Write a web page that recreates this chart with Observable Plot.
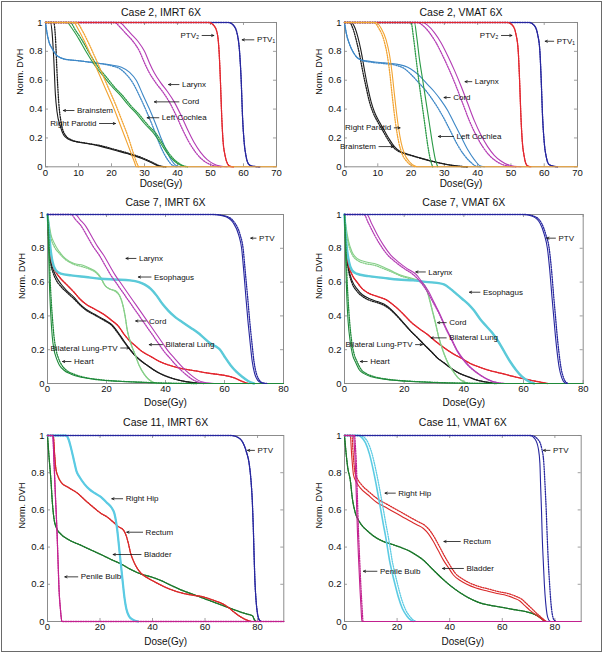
<!DOCTYPE html>
<html><head><meta charset="utf-8">
<script src="https://cdn.jsdelivr.net/npm/d3@7"></script>
<script src="https://cdn.jsdelivr.net/npm/@observablehq/plot@0.6"></script>
<style>
body{margin:0;background:#fff;}
#fig{position:relative;width:605px;height:654px;overflow:hidden;background:#fff;font-family:"Liberation Sans",Arial,sans-serif;}
#border{position:absolute;left:1px;top:1px;width:601px;height:651px;border:1.2px solid #6a6a6a;box-sizing:border-box;}
.panel{position:absolute;}
</style></head><body><div id="fig"><div id="border"></div></div>
<script>
// ---------- Case 2, IMRT 6X ----------
const c2i_brainstem = [[0,1],[1.5,1],[2,0.93],[2.5,0.75],[3,0.5],[3.5,0.38],[4.5,0.28],[5.5,0.22],[7,0.19],[9,0.175],[13,0.16],[17,0.14],[21,0.115],[25,0.09],[29,0.06],[32,0.03],[34,0.008],[36,0]];
const c2i_brainstem_b = [[0,1],[2.5,1],[3,0.9],[3.5,0.65],[4,0.45],[4.8,0.3],[6,0.22],[8,0.185],[12,0.165],[17,0.145],[21,0.12],[25,0.095],[29,0.065],[32,0.035],[34.5,0.008],[36.5,0]];
const c2i_cord = [[0,1],[0.3,0.95],[1,0.87],[2,0.82],[3.5,0.77],[6,0.745],[10,0.735],[15,0.72],[20,0.705],[23,0.69],[25.5,0.655],[27.5,0.6],[29.5,0.5],[31.5,0.4],[33.5,0.29],[35,0.2],[36.5,0.12],[38,0.05],[39.5,0.01],[41,0]];
const c2i_cord_b = [[0,1],[0.3,0.95],[1,0.87],[2,0.82],[3.5,0.77],[6,0.745],[10,0.735],[15,0.72],[20,0.7],[22.5,0.68],[24.5,0.64],[26.5,0.58],[28.5,0.49],[30.5,0.39],[32.5,0.28],[34,0.19],[35.5,0.11],[37,0.05],[38.5,0.01],[40,0]];
const c2i_cochlea = [[0,1],[6.5,1],[8,0.96],[10,0.89],[12.5,0.79],[15,0.7],[17.5,0.63],[20,0.56],[22.5,0.5],[25,0.43],[27.5,0.37],[30,0.3],[32.5,0.24],[35,0.16],[37,0.09],[39,0.04],[41,0.01],[42.5,0]];
const c2i_cochlea_b = [[0,1],[7.5,1],[9,0.95],[11,0.88],[13.5,0.78],[16,0.69],[18.5,0.62],[21,0.55],[23.5,0.49],[26,0.42],[28.5,0.36],[31,0.29],[33.5,0.23],[35.5,0.16],[37.5,0.09],[39.5,0.04],[41.5,0.01],[43,0]];
const c2i_parotid = [[0,1],[8.5,1],[10,0.95],[12,0.86],[14,0.76],[16,0.655],[18,0.55],[20,0.445],[22,0.33],[24,0.21],[26,0.09],[27,0.03],[27.5,0],[70,0]];
const c2i_parotid_b = [[0,1],[9.5,1],[11,0.95],[13,0.86],[15,0.76],[17,0.655],[19,0.55],[21,0.445],[23,0.33],[25,0.21],[26.7,0.09],[27.6,0.03],[28.2,0]];
const c2i_larynx = [[0,1],[22.5,1],[24,0.97],[26,0.92],[28,0.87],[30,0.8],[31.5,0.72],[33,0.65],[35,0.58],[37,0.52],[39,0.45],[41,0.36],[43,0.26],[45,0.17],[47,0.1],[49,0.05],[51,0.02],[53,0.005],[55,0]];
const c2i_larynx_b = [[0,1],[21,1],[22.5,0.97],[24.5,0.92],[26.5,0.87],[28.5,0.8],[30,0.72],[31.5,0.65],[33.5,0.58],[35.5,0.52],[37.5,0.45],[39.5,0.36],[41.5,0.26],[43.5,0.17],[45.5,0.1],[47.5,0.05],[49.5,0.02],[51.5,0.005],[53.5,0]];
const c2i_ptv2 = [[0,1],[49.5,1],[51,0.98],[52,0.93],[52.6,0.8],[53,0.6],[53.4,0.35],[53.8,0.18],[54.4,0.08],[55.2,0.02],[56,0.003],[57,0]];
const c2i_ptv1 = [[0,1],[55.5,1],[57,0.98],[58,0.93],[58.8,0.8],[59.3,0.6],[59.7,0.35],[60.2,0.17],[60.8,0.07],[61.5,0.02],[62.5,0.005],[65,0]];
const c2i_labels = [
  {name:"PTV\u2082", dose:51, vol:0.91, tx:47},
  {name:"PTV\u2081", dose:59.6, vol:0.88, tx:63.6},
  {name:"Larynx", dose:37.3, vol:0.57, tx:40.9},
  {name:"Cord", dose:33, vol:0.45, tx:40.9},
  {name:"Left Cochlea", dose:30.8, vol:0.34, tx:34.8},
  {name:"Brainstem", dose:5.4, vol:0.39, tx:9.1},
  {name:"Right Parotid", dose:21.2, vol:0.30, tx:15.9}
];

// ---------- Case 2, VMAT 6X ----------
const c2v_brainstem = [[0,1],[2,1],[3,0.97],[4,0.9],[5,0.8],[6,0.67],[7,0.55],[8,0.45],[9,0.38],[10.5,0.31],[12,0.25],[13.5,0.19],[15,0.14],[16.5,0.11],[18,0.095],[20,0.08],[23,0.06],[26,0.04],[29,0.025],[32,0.012],[35,0.003],[37,0]];
const c2v_brainstem_b = [[0,1],[1.5,1],[2.5,0.96],[3.5,0.88],[4.5,0.78],[5.5,0.66],[6.5,0.55],[7.5,0.45],[8.5,0.38],[10,0.31],[11.5,0.25],[13,0.19],[14.5,0.14],[16,0.11],[17.5,0.095],[20,0.078],[23,0.058],[26,0.04],[29,0.024],[32,0.01],[35,0.002],[37,0]];
const c2v_cord = [[0,1],[0.5,0.93],[1.5,0.85],[3,0.78],[5,0.74],[8,0.73],[12,0.72],[16,0.71],[19,0.69],[21,0.66],[23,0.62],[25,0.57],[27,0.52],[29,0.46],[31,0.39],[33,0.3],[35,0.21],[37,0.12],[39,0.05],[40.5,0.01],[42,0]];
const c2v_cord_b = [[0,1],[0.5,0.93],[1.5,0.85],[3,0.78],[5,0.74],[8,0.725],[12,0.715],[16,0.7],[18,0.68],[20,0.64],[22,0.59],[24,0.54],[26,0.48],[28,0.41],[30,0.33],[32,0.24],[34,0.15],[36,0.08],[38,0.03],[39.5,0.005],[41,0]];
const c2v_parotid = [[0,1],[9.5,1],[11,0.96],[12.5,0.88],[13.5,0.78],[14.3,0.65],[15,0.5],[15.6,0.38],[16.3,0.26],[17,0.17],[18,0.09],[19.5,0.035],[21,0.008],[22,0],[70,0]];
const c2v_parotid_b = [[0,1],[8.8,1],[10.3,0.96],[11.8,0.88],[12.8,0.78],[13.6,0.65],[14.3,0.5],[14.9,0.38],[15.6,0.26],[16.3,0.17],[17.3,0.09],[18.8,0.035],[20.3,0.008],[21.3,0]];
const c2v_cochlea = [[0,1],[21,1],[21.7,0.9],[22.5,0.75],[23.5,0.6],[24.5,0.45],[25.5,0.3],[26.5,0.15],[27.3,0.05],[28,0]];
const c2v_cochlea_b = [[0,1],[20,1],[20.7,0.9],[21.5,0.75],[22.3,0.6],[23.2,0.45],[24.1,0.3],[25,0.15],[25.8,0.05],[26.5,0]];
const c2v_larynx = [[0,1],[23.5,1],[25,0.98],[27,0.93],[29,0.86],[31,0.77],[33,0.67],[35,0.56],[37,0.44],[39,0.32],[41,0.22],[43,0.14],[45,0.08],[47,0.04],[49,0.015],[51,0.004],[53,0]];
const c2v_larynx_b = [[0,1],[22,1],[23.5,0.98],[25.5,0.93],[27.5,0.86],[29.5,0.77],[31.5,0.67],[33.5,0.56],[35.5,0.44],[37.5,0.32],[39.5,0.22],[41.5,0.14],[43.5,0.08],[45.5,0.04],[47.5,0.015],[49.5,0.004],[51.5,0]];
const c2v_ptv2 = [[0,1],[49,1],[50.5,0.98],[51.5,0.92],[52.2,0.8],[52.6,0.6],[53,0.35],[53.4,0.18],[54,0.07],[54.8,0.01],[56,0]];
const c2v_ptv1 = [[0,1],[55.5,1],[57,0.98],[58,0.92],[58.7,0.8],[59.1,0.6],[59.5,0.35],[60,0.17],[60.7,0.06],[61.5,0.015],[63,0.003],[64,0]];
const c2v_labels = [
  {name:"PTV\u2082", dose:50.3, vol:0.91, tx:46.7},
  {name:"PTV\u2081", dose:60.3, vol:0.87, tx:63.3},
  {name:"Larynx", dose:36.2, vol:0.59, tx:38.7},
  {name:"Cord", dose:29.9, vol:0.48, tx:32.2},
  {name:"Left Cochlea", dose:28.2, vol:0.21, tx:33.2},
  {name:"Right Parotid", dose:16.7, vol:0.27, tx:14.5},
  {name:"Brainstem", dose:14.7, vol:0.14, tx:9.9}
];

// ---------- Case 7, IMRT 6X ----------
const c7i_ptv = [[0,1],[56,1],[60,0.99],[63,0.95],[64.8,0.88],[65.8,0.8],[66.6,0.65],[67.3,0.5],[68,0.36],[68.7,0.24],[69.4,0.13],[70.2,0.06],[71.2,0.02],[72.5,0.004],[74,0]];
const c7i_ptv_b = [[0,1],[56.5,1],[60.5,0.99],[63.5,0.95],[65.3,0.88],[66.3,0.8],[67.1,0.65],[67.9,0.5],[68.6,0.36],[69.3,0.24],[70,0.13],[70.8,0.06],[71.8,0.02],[73,0.004],[74.5,0]];
const c7i_larynx = [[0,1],[9.5,1],[11,0.97],[13,0.93],[15,0.87],[17,0.81],[19,0.76],[21,0.7],[23,0.64],[25,0.59],[27,0.54],[29,0.49],[31,0.44],[33,0.39],[35,0.34],[37,0.29],[39,0.24],[41,0.19],[43,0.15],[45,0.11],[47,0.075],[49,0.045],[51,0.02],[53,0.007],[55,0.002],[56.5,0]];
const c7i_larynx_b = [[0,1],[8,1],[9.5,0.97],[11.5,0.93],[13.5,0.87],[15.5,0.81],[17.5,0.76],[19.5,0.7],[21.5,0.64],[23.5,0.59],[25.5,0.54],[27.5,0.49],[29.5,0.44],[31.5,0.39],[33.5,0.34],[35.5,0.29],[37.5,0.24],[39.5,0.19],[41.5,0.15],[43.5,0.11],[45.5,0.075],[47.5,0.045],[49.5,0.02],[51.5,0.007],[53.5,0.002],[55,0]];
const c7i_esophagus = [[0,1],[0.5,0.9],[1,0.8],[1.7,0.72],[2.8,0.67],[4.5,0.65],[8,0.64],[13,0.63],[18,0.62],[23,0.615],[28,0.61],[31,0.6],[33,0.585],[35,0.56],[37,0.52],[39,0.47],[41,0.43],[43.5,0.39],[46,0.36],[48.5,0.33],[51,0.3],[53,0.27],[55,0.24],[57,0.22],[58.5,0.2],[60,0.16],[62,0.11],[64,0.07],[66,0.04],[68,0.015],[70,0]];
const c7i_cord = [[0,1],[0.5,0.95],[1.2,0.88],[2.3,0.83],[4,0.78],[6,0.74],[9,0.71],[12,0.7],[14.5,0.68],[16.5,0.66],[18,0.63],[19.5,0.58],[21,0.56],[23,0.55],[24.5,0.52],[25.5,0.47],[26.3,0.4],[27,0.32],[28,0.25],[29.5,0.18],[31,0.11],[33,0.05],[35,0.015],[37,0]];
const c7i_cord_b = [[0,1],[0.5,0.93],[1.2,0.86],[2.3,0.81],[4,0.77],[6,0.735],[9,0.705],[12,0.69],[14.5,0.675],[16.5,0.655],[18,0.625],[19.5,0.58],[21,0.56],[23,0.545],[24.5,0.515],[25.5,0.465],[26.3,0.4],[27,0.32],[28,0.25],[29.5,0.18],[31,0.11],[33,0.05],[35,0.015],[37,0]];
const c7i_lung = [[0,1],[0.3,0.9],[0.7,0.8],[1.2,0.74],[2,0.69],[3,0.655],[4.5,0.62],[6.5,0.585],[9,0.54],[11,0.5],[13,0.47],[16,0.44],[19,0.41],[22,0.37],[24,0.34],[26,0.29],[28,0.25],[30,0.22],[32,0.19],[35,0.16],[38,0.13],[41,0.11],[45,0.09],[50,0.075],[55,0.06],[60,0.048],[63,0.035],[65,0.02],[67,0.006],[68,0]];
const c7i_lungptv = [[0,1],[0.3,0.9],[0.7,0.79],[1.2,0.72],[2,0.67],[3,0.63],[4.5,0.59],[6.5,0.55],[9,0.51],[11,0.47],[13,0.44],[16,0.41],[19,0.38],[22,0.345],[24,0.3],[26,0.25],[28,0.2],[30,0.16],[32,0.13],[34,0.105],[37,0.07],[40,0.045],[44,0.022],[48,0.008],[51,0.002],[53,0]];
const c7i_lungptv_b = [[0,1],[0.3,0.88],[0.7,0.77],[1.2,0.7],[2,0.65],[3,0.61],[4.5,0.575],[6.5,0.54],[9,0.5],[11,0.465],[13,0.435],[16,0.405],[19,0.375],[22,0.34],[24,0.295],[26,0.245],[28,0.2],[30,0.16],[32,0.13],[34,0.105],[37,0.07],[40,0.045],[44,0.022],[48,0.008],[51,0.002],[53,0]];
const c7i_heart = [[0,1],[0.3,0.85],[0.6,0.62],[0.9,0.48],[1.2,0.38],[1.6,0.28],[2.2,0.2],[3,0.15],[4,0.11],[5.5,0.08],[8,0.055],[12,0.035],[17,0.022],[24,0.013],[30,0.008],[36,0.004],[42,0.001],[50,0],[80,0]];
const c7i_heart_b = [[0,1],[0.5,0.85],[0.9,0.62],[1.3,0.48],[1.7,0.38],[2.2,0.28],[2.9,0.2],[3.7,0.15],[4.8,0.11],[6.3,0.08],[9,0.055],[13,0.035],[18,0.022],[25,0.013],[31,0.008],[37,0.004],[43,0.001],[51,0]];
const c7i_labels = [
  {name:"PTV", dose:68.9, vol:0.86, tx:71.2},
  {name:"Larynx", dose:26.6, vol:0.74, tx:30.5},
  {name:"Esophagus", dose:30.8, vol:0.63, tx:35.6},
  {name:"Cord", dose:29.9, vol:0.37, tx:33.9},
  {name:"Bilateral Lung", dose:34.5, vol:0.23, tx:39.5},
  {name:"Bilateral Lung-PTV", dose:27.7, vol:0.21, tx:24.3},
  {name:"Heart", dose:5.1, vol:0.13, tx:8.5}
];

// ---------- Case 7, VMAT 6X ----------
const c7v_ptv = [[0,1],[60,1],[63,0.99],[65.5,0.95],[67,0.88],[68,0.8],[68.8,0.67],[69.5,0.52],[70.1,0.4],[70.7,0.28],[71.3,0.18],[72,0.09],[72.8,0.035],[73.6,0.008],[74.5,0]];
const c7v_ptv_b = [[0,1],[60.5,1],[63.5,0.99],[66,0.95],[67.5,0.88],[68.6,0.8],[69.4,0.67],[70.1,0.52],[70.7,0.4],[71.3,0.28],[71.9,0.18],[72.6,0.09],[73.4,0.035],[74.2,0.008],[75,0]];
const c7v_larynx = [[0,1],[7.5,1],[9,0.95],[11,0.88],[13,0.82],[15.5,0.76],[18,0.72],[21,0.68],[24,0.645],[26,0.6],[28,0.55],[30,0.48],[32,0.41],[34,0.33],[36,0.26],[38,0.19],[40,0.14],[42,0.1],[44,0.07],[46,0.045],[48,0.025],[50,0.01],[52,0.003],[54,0]];
const c7v_larynx_b = [[0,1],[6.5,1],[8,0.95],[10,0.88],[12,0.82],[14.5,0.76],[17,0.72],[20,0.68],[23,0.645],[25.5,0.6],[27.5,0.55],[29.7,0.48],[31.8,0.41],[33.8,0.33],[35.8,0.26],[37.8,0.19],[39.8,0.14],[41.8,0.1],[43.8,0.07],[45.8,0.045],[47.8,0.025],[49.8,0.01],[51.8,0.003],[53.5,0]];
const c7v_esophagus = [[0,1],[0.3,0.9],[0.8,0.8],[1.5,0.72],[2.5,0.67],[4,0.65],[8,0.635],[13,0.625],[18,0.615],[23,0.61],[28,0.6],[31,0.595],[33.5,0.585],[35.5,0.56],[37.5,0.53],[39.5,0.5],[41.5,0.47],[43.5,0.43],[45.5,0.38],[47.5,0.34],[49.5,0.3],[51.5,0.25],[53.5,0.19],[55.5,0.13],[57.5,0.08],[59.5,0.04],[61.5,0.015],[63.5,0]];
const c7v_cord = [[0,1],[0.5,0.93],[1.4,0.84],[2.5,0.78],[4.2,0.74],[7,0.72],[10,0.71],[13,0.69],[16.5,0.66],[19,0.64],[21,0.63],[24,0.615],[26,0.6],[27.5,0.56],[28.5,0.5],[29.5,0.43],[30.5,0.36],[31.5,0.28],[32.5,0.22],[33.5,0.17],[35,0.11],[36.5,0.07],[38,0.035],[40,0.01],[41.5,0]];
const c7v_cord_b = [[0,1],[0.5,0.91],[1.4,0.82],[2.5,0.765],[4.2,0.73],[7,0.71],[10,0.7],[13,0.68],[16.5,0.655],[19,0.635],[21,0.625],[24,0.61],[26,0.595],[27.5,0.555],[28.5,0.495],[29.5,0.425],[30.5,0.355],[31.5,0.28],[32.5,0.22],[33.5,0.17],[35,0.11],[36.5,0.07],[38,0.035],[40,0.01],[41.5,0]];
const c7v_lung = [[0,1],[0.3,0.88],[0.8,0.77],[1.4,0.7],[2.5,0.645],[4.2,0.6],[6,0.56],[8,0.535],[11,0.515],[14,0.495],[16,0.47],[18,0.44],[20,0.405],[22.2,0.365],[25,0.325],[27.8,0.29],[30.5,0.25],[33.5,0.21],[36.5,0.175],[39.1,0.15],[42,0.12],[44.7,0.1],[48,0.08],[52.6,0.06],[57,0.04],[61.6,0.022],[65,0.01],[68,0]];
const c7v_lungptv = [[0,1],[0.3,0.87],[0.8,0.75],[1.4,0.68],[2.5,0.61],[4.2,0.56],[6,0.525],[8,0.505],[11,0.485],[13.2,0.47],[15.5,0.44],[17.7,0.4],[20,0.355],[22.2,0.31],[24.5,0.27],[26.7,0.23],[29,0.19],[31.2,0.15],[33.5,0.12],[35.7,0.09],[38.5,0.06],[41.4,0.04],[44,0.022],[47,0.01],[50.4,0]];
const c7v_lungptv_b = [[0,1],[0.3,0.86],[0.8,0.74],[1.4,0.665],[2.5,0.595],[4.2,0.545],[6,0.515],[8,0.495],[11,0.478],[13.2,0.463],[15.5,0.435],[17.7,0.397],[20,0.352],[22.2,0.31],[24.5,0.27],[26.7,0.23],[29,0.19],[31.2,0.15],[33.5,0.12],[35.7,0.09],[38.5,0.06],[41.4,0.04],[44,0.022],[47,0.01],[50.4,0]];
const c7v_heart = [[0,1],[0.3,0.8],[0.6,0.6],[0.8,0.5],[1.2,0.37],[1.9,0.25],[2.7,0.17],[3.6,0.13],[5,0.08],[6.4,0.06],[9,0.04],[13.2,0.026],[18,0.017],[24.5,0.01],[30,0.006],[35.7,0.003],[42,0.001],[50,0],[80,0]];
const c7v_heart_b = [[0,1],[0.5,0.8],[0.9,0.6],[1.2,0.5],[1.7,0.37],[2.4,0.25],[3.3,0.17],[4.2,0.13],[5.7,0.08],[7.2,0.06],[10,0.04],[14,0.026],[19,0.017],[25.5,0.01],[31,0.006],[36.5,0.003],[43,0.001],[51,0]];
const c7v_labels = [
  {name:"PTV", dose:67.8, vol:0.86, tx:71.2},
  {name:"Larynx", dose:23.9, vol:0.66, tx:27.6},
  {name:"Esophagus", dose:41.9, vol:0.54, tx:45.9},
  {name:"Cord", dose:31.2, vol:0.36, tx:34.6},
  {name:"Bilateral Lung", dose:29, vol:0.27, tx:34.6},
  {name:"Bilateral Lung-PTV", dose:26.1, vol:0.23, tx:23.3},
  {name:"Heart", dose:5.3, vol:0.13, tx:8.1}
];

// ---------- Case 11, IMRT 6X ----------
const c11i_ptv = [[0,1],[70,1],[72.5,0.99],[74.5,0.96],[75.8,0.91],[76.8,0.85],[77.5,0.76],[78,0.65],[78.4,0.5],[78.7,0.35],[79,0.22],[79.4,0.12],[79.9,0.05],[80.6,0.01],[81.5,0]];
const c11i_hip = [[0,1],[7,1],[8,0.98],[9,0.93],[10,0.87],[11,0.81],[12.5,0.77],[14,0.74],[16,0.71],[18,0.69],[20.3,0.67],[22.5,0.64],[24.5,0.61],[25.5,0.58],[26.3,0.52],[26.9,0.45],[27.4,0.38],[28,0.3],[28.6,0.22],[29.3,0.13],[30,0.07],[31,0.03],[32.5,0.01],[34.5,0]];
const c11i_rectum = [[0,1],[2.2,1],[2.7,0.9],[3.2,0.82],[4,0.78],[5.1,0.75],[8,0.72],[11.4,0.69],[14.5,0.65],[17.8,0.61],[20.5,0.58],[22.9,0.56],[25,0.535],[27,0.51],[29,0.49],[30,0.46],[30.8,0.42],[31.6,0.37],[32.6,0.33],[34,0.29],[35.6,0.26],[38,0.235],[40.6,0.215],[44,0.19],[48.3,0.165],[52,0.15],[55.9,0.14],[58.5,0.135],[61,0.125],[64,0.11],[66,0.1],[68.5,0.08],[71.1,0.05],[73.5,0.025],[76.2,0.006],[77.5,0]];
const c11i_bladder = [[0,1],[0.5,0.9],[1.3,0.76],[1.9,0.63],[2.5,0.55],[3.5,0.5],[5.1,0.47],[8,0.44],[12.7,0.41],[16.5,0.385],[20.3,0.36],[24,0.335],[27.9,0.31],[31.7,0.28],[35.6,0.255],[39.4,0.24],[43.2,0.22],[47,0.195],[50.8,0.17],[54.6,0.15],[58.4,0.13],[62.2,0.11],[66,0.09],[69.8,0.07],[73.7,0.05],[76,0.04],[78.1,0.03],[78.8,0.01],[79.4,0]];
const c11i_bulb = [[0,1],[2,1],[2.5,0.85],[3,0.68],[3.6,0.49],[4,0.33],[4.4,0.17],[4.9,0.07],[5.5,0],[90,0]];
const c11i_labels = [
  {name:"PTV", dose:76.2, vol:0.92, tx:79.4},
  {name:"Right Hip", dose:24.5, vol:0.66, tx:29.2},
  {name:"Rectum", dose:30.2, vol:0.48, tx:36.8},
  {name:"Bladder", dose:25, vol:0.36, tx:36.2},
  {name:"Penile Bulb", dose:6.6, vol:0.24, tx:12.1}
];

// ---------- Case 11, VMAT 6X ----------
const c11v_ptv = [[0,1],[70.5,1],[72.5,0.98],[73.7,0.93],[74.3,0.85],[74.6,0.72],[74.9,0.6],[75.2,0.45],[75.6,0.32],[76,0.2],[76.5,0.1],[77,0.04],[77.6,0.01],[78.3,0]];
const c11v_ptv_b = [[0,1],[71,1],[73.5,0.98],[75,0.93],[75.8,0.85],[76.3,0.72],[76.7,0.6],[77.1,0.45],[77.5,0.32],[78,0.2],[78.5,0.1],[79,0.04],[79.6,0.01],[80.5,0]];
const c11v_hip = [[0,1],[5.3,1],[6.5,0.99],[8,0.96],[9.5,0.9],[11,0.81],[12,0.74],[12.9,0.67],[13.8,0.6],[14.8,0.52],[15.6,0.46],[16.3,0.4],[17.1,0.33],[18,0.27],[19.2,0.2],[20.5,0.13],[22,0.07],[23.7,0.03],[25,0.01],[26.2,0]];
const c11v_hip_b = [[0,1],[6,1],[7.5,0.99],[9,0.96],[10.5,0.9],[12,0.81],[13,0.74],[13.9,0.67],[14.8,0.6],[15.8,0.52],[16.6,0.46],[17.3,0.4],[18.1,0.33],[19,0.27],[20.2,0.2],[21.5,0.13],[23,0.07],[24.7,0.03],[26,0.01],[27.2,0]];
const c11v_rectum = [[0,1],[2.2,1],[2.7,0.9],[3.4,0.79],[4.5,0.75],[5.9,0.72],[9,0.68],[12.3,0.64],[15.5,0.615],[18.6,0.59],[21.8,0.565],[24.9,0.54],[27.5,0.52],[30,0.5],[32,0.47],[33.8,0.43],[35.7,0.38],[37.6,0.33],[39.5,0.29],[41.4,0.25],[44,0.22],[46.5,0.2],[50,0.18],[54,0.165],[58,0.15],[61.6,0.14],[64.5,0.125],[66.7,0.11],[68.6,0.085],[70.5,0.06],[72.4,0.04],[74.3,0.02],[75.5,0.008],[76.2,0]];
const c11v_rectum_b = [[0,1],[2.8,1],[3.3,0.9],[4,0.8],[5,0.765],[6.5,0.735],[9.5,0.695],[13,0.655],[16.2,0.63],[19.3,0.605],[22.5,0.58],[25.6,0.555],[28.2,0.535],[30.7,0.515],[32.7,0.485],[34.5,0.445],[36.4,0.395],[38.3,0.345],[40.2,0.3],[42.1,0.26],[44.7,0.23],[47.2,0.21],[50.7,0.19],[54.7,0.175],[58.7,0.16],[62.3,0.15],[65.2,0.135],[67.4,0.12],[69.3,0.095],[71.2,0.07],[73,0.045],[74.8,0.022],[76,0.008],[76.7,0]];
const c11v_bladder = [[0,1],[0.5,0.92],[1.2,0.83],[2.2,0.76],[3,0.66],[4,0.59],[5.5,0.54],[7,0.51],[8.5,0.49],[11,0.46],[14.8,0.43],[18,0.415],[21.1,0.4],[24.5,0.38],[27.5,0.355],[30,0.33],[32.5,0.295],[35,0.26],[37.6,0.225],[40.5,0.19],[43.9,0.155],[47.5,0.125],[51.5,0.1],[55,0.088],[59.1,0.078],[64,0.065],[69.2,0.052],[72,0.04],[74.3,0.022],[75.5,0.008],[76.2,0]];
const c11v_bulb = [[0,1],[3.4,1],[3.8,0.93],[4.1,0.85],[4.5,0.67],[4.9,0.49],[5.4,0.32],[5.9,0.17],[6.3,0.07],[6.6,0],[90,0]];
const c11v_bulb_b = [[0,1],[3.8,1],[4.2,0.93],[4.5,0.85],[4.9,0.67],[5.3,0.49],[5.8,0.32],[6.3,0.17],[6.7,0.07],[7,0]];
const c11v_labels = [
  {name:"PTV", dose:75.6, vol:0.92, tx:78.7},
  {name:"Right Hip", dose:15.4, vol:0.69, tx:19.9},
  {name:"Rectum", dose:37.8, vol:0.43, tx:44.6},
  {name:"Bladder", dose:37.3, vol:0.285, tx:45.8},
  {name:"Penile Bulb", dose:7.2, vol:0.27, tx:12.9}
];

// ---------- shared axis ticks ----------
const yTicks = [0, 0.2, 0.4, 0.6, 0.8, 1];
const xTicks70 = [0, 10, 20, 30, 40, 50, 60, 70];
const xTicks80 = [0, 20, 40, 60, 80];

// ---------- colours (style) ----------
const C = {navy:"#26269e", red:"#e2262e", magenta:"#b43cb4", blue:"#3d87c6", green:"#2b9a46", orange:"#f2a330",
  black:"#1c1c1c", cyan:"#5ccad9", lgreen:"#86cf88", dgreen:"#1f8a3a", hip:"#5ccbe3", rectum:"#d92a2a", bladder:"#1c782c", bulb:"#c2208f"};

const panels = [
  {title:"Case 2, IMRT 6X", left:45, top:21.7, right:276, bottom:166, xmax:70, xticks:xTicks70, titleDy:-9.7, xlabDy:17,
   labels:c2i_labels, series:[
    {d:c2i_brainstem, b:c2i_brainstem_b, c:C.black},
    {d:c2i_cord, b:c2i_cord_b, c:C.blue},
    {d:c2i_cochlea, b:c2i_cochlea_b, c:C.green},
    {d:c2i_larynx, b:c2i_larynx_b, c:C.magenta},
    {d:c2i_ptv1, b:c2i_ptv1, c:C.navy},
    {d:c2i_ptv2, b:c2i_ptv2, c:C.red},
    {d:c2i_parotid, b:c2i_parotid_b, c:C.orange}]},
  {title:"Case 2, VMAT 6X", left:344.3, top:21.7, right:577.3, bottom:166, xmax:70, xticks:xTicks70, titleDy:-9.7, xlabDy:17,
   labels:c2v_labels, series:[
    {d:c2v_brainstem, b:c2v_brainstem_b, c:C.black},
    {d:c2v_cord, b:c2v_cord_b, c:C.blue},
    {d:c2v_cochlea, b:c2v_cochlea_b, c:C.green},
    {d:c2v_larynx, b:c2v_larynx_b, c:C.magenta},
    {d:c2v_ptv1, b:c2v_ptv1, c:C.navy},
    {d:c2v_ptv2, b:c2v_ptv2, c:C.red},
    {d:c2v_parotid, b:c2v_parotid_b, c:C.orange}]},
  {title:"Case 7, IMRT 6X", left:47, top:214, right:283, bottom:383, xmax:80, xticks:xTicks80, titleDy:-11.5, xlabDy:19.5,
   labels:c7i_labels, series:[
    {d:c7i_lungptv, b:c7i_lungptv_b, c:C.black},
    {d:c7i_lung, b:c7i_lung, c:C.red},
    {d:c7i_cord, b:c7i_cord_b, c:C.lgreen},
    {d:c7i_esophagus, b:c7i_esophagus, c:C.cyan, w:2.4},
    {d:c7i_larynx, b:c7i_larynx_b, c:C.magenta},
    {d:c7i_heart, b:c7i_heart_b, c:C.dgreen},
    {d:c7i_ptv, b:c7i_ptv_b, c:C.navy}]},
  {title:"Case 7, VMAT 6X", left:344.3, top:214, right:583, bottom:383, xmax:80, xticks:xTicks80, titleDy:-11.5, xlabDy:19.5,
   labels:c7v_labels, series:[
    {d:c7v_lungptv, b:c7v_lungptv_b, c:C.black},
    {d:c7v_lung, b:c7v_lung, c:C.red},
    {d:c7v_cord, b:c7v_cord_b, c:C.lgreen},
    {d:c7v_esophagus, b:c7v_esophagus, c:C.cyan, w:2.4},
    {d:c7v_larynx, b:c7v_larynx_b, c:C.magenta},
    {d:c7v_heart, b:c7v_heart_b, c:C.dgreen},
    {d:c7v_ptv, b:c7v_ptv_b, c:C.navy}]},
  {title:"Case 11, IMRT 6X", left:46.7, top:435, right:283, bottom:621, xmax:90, xticks:xTicks80, titleDy:-13, xlabDy:20,
   labels:c11i_labels, series:[
    {d:c11i_bladder, b:c11i_bladder, c:C.bladder},
    {d:c11i_rectum, b:c11i_rectum, c:C.rectum},
    {d:c11i_hip, b:c11i_hip, c:C.hip, w:2.2},
    {d:c11i_ptv, b:c11i_ptv, c:C.navy},
    {d:c11i_bulb, b:c11i_bulb, c:C.bulb}]},
  {title:"Case 11, VMAT 6X", left:344.3, top:435, right:581, bottom:621, xmax:90, xticks:xTicks80, titleDy:-13, xlabDy:20,
   labels:c11v_labels, series:[
    {d:c11v_bladder, b:c11v_bladder, c:C.bladder},
    {d:c11v_rectum, b:c11v_rectum_b, c:C.rectum},
    {d:c11v_hip, b:c11v_hip_b, c:C.hip, w:1.6},
    {d:c11v_ptv, b:c11v_ptv_b, c:C.navy},
    {d:c11v_bulb, b:c11v_bulb_b, c:C.bulb}]}
];

const fig = document.getElementById("fig");
const mL = 42, mR = 14, mT = 22, mB = 36;
const FONT = '"Liberation Sans", Arial, Helvetica, sans-serif';

for (const p of panels) {
  const w = p.right - p.left, h = p.bottom - p.top;
  const marks = [Plot.frame({stroke:"#8c8c8c", strokeWidth:1})];
  // inner tick marks (Matlab style)
  marks.push(Plot.tickX(p.xticks, {x:d=>d, insetTop:h-3, stroke:"#888", strokeWidth:0.8}));
  marks.push(Plot.tickX(p.xticks, {x:d=>d, insetBottom:h-3, stroke:"#888", strokeWidth:0.8}));
  marks.push(Plot.tickY(yTicks, {y:d=>d, insetRight:w-3, stroke:"#888", strokeWidth:0.8}));
  marks.push(Plot.tickY(yTicks, {y:d=>d, insetLeft:w-3, stroke:"#888", strokeWidth:0.8}));
  for (const s of p.series) {
    marks.push(Plot.line(s.d, {x:d=>d[0], y:d=>d[1], stroke:s.c, strokeWidth:s.w || 1.1, curve:"monotone-x"}));
    marks.push(Plot.line(s.b, {x:d=>d[0], y:d=>d[1], stroke:s.c, strokeWidth:1.3, strokeDasharray:"1.2,1.3", curve:"monotone-x"}));
  }
  // annotations
  marks.push(Plot.arrow(p.labels, {x1:"tx", y1:"vol", x2:"dose", y2:"vol", stroke:"#111", strokeWidth:0.8,
    headLength:4.5, headAngle:50, insetStart:1.5}));
  marks.push(Plot.text(p.labels.filter(d=>d.tx>d.dose), {x:"tx", y:"vol", text:"name", textAnchor:"start", dx:1.5,
    lineAnchor:"middle", fontSize:8, fill:"#111"}));
  marks.push(Plot.text(p.labels.filter(d=>d.tx<d.dose), {x:"tx", y:"vol", text:"name", textAnchor:"end", dx:-1.5,
    lineAnchor:"middle", fontSize:8, fill:"#111"}));
  // title and axis titles
  marks.push(Plot.text([p.title], {frameAnchor:"top", dy:p.titleDy, lineAnchor:"middle", text:d=>d, fontSize:10.5, fill:"#111"}));
  marks.push(Plot.text(["Dose(Gy)"], {frameAnchor:"bottom", dy:p.xlabDy, lineAnchor:"middle", text:d=>d, fontSize:10, fill:"#111"}));
  marks.push(Plot.text(["Norm. DVH"], {frameAnchor:"left", dx:-25, rotate:-90, lineAnchor:"middle", text:d=>d, fontSize:9, fill:"#111"}));

  const svg = Plot.plot({
    width: mL + w + mR, height: mT + h + mB,
    marginLeft: mL, marginRight: mR, marginTop: mT, marginBottom: mB,
    style: {background:"transparent", overflow:"visible", maxWidth:"none", fontFamily:FONT, fontSize:"9.5px", color:"#111"},
    x: {domain:[0, p.xmax], ticks:p.xticks, tickSize:0, tickPadding:2, label:null, tickFormat:d3.format("~g")},
    y: {domain:[0, 1], ticks:yTicks, tickSize:0, tickPadding:3, label:null, tickFormat:d3.format("~g")},
    marks
  });
  const div = document.createElement("div");
  div.className = "panel";
  div.style.left = (p.left - mL) + "px";
  div.style.top = (p.top - mT) + "px";
  div.appendChild(svg);
  fig.appendChild(div);
}
</script>
</body></html>
